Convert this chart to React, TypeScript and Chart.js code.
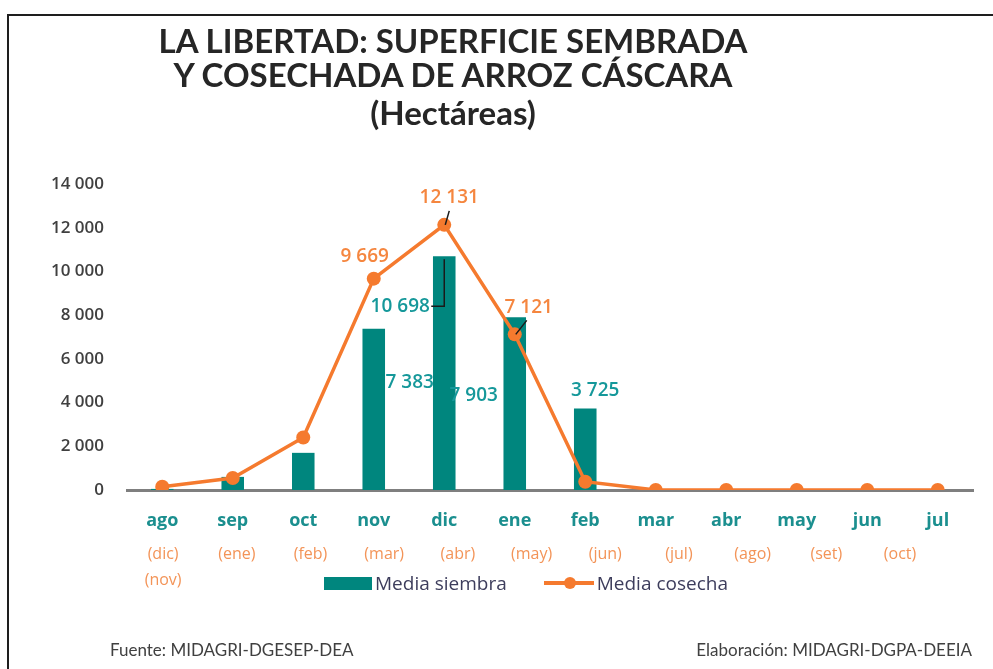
import React, { useEffect, useRef } from "react";
import { Chart, registerables } from "chart.js";

Chart.register(...registerables);

const FONT = "'Open Sans', Lato, sans-serif";
const TITLE_FONT = "Lato, 'Open Sans', sans-serif";

const months = ["ago", "sep", "oct", "nov", "dic", "ene", "feb", "mar", "abr", "may", "jun", "jul"];
const subLabels: (string | string[])[] = [
  ["(dic)", "(nov)"], "(ene)", "(feb)", "(mar)", "(abr)", "(may)", "(jun)", "(jul)", "(ago)", "(set)", "(oct)",
];
const siembra = [50, 600, 1700, 7383, 10698, 7903, 3725, 0, 0, 0, 0, 0];
const cosecha = [150, 550, 2400, 9669, 12131, 7121, 380, 0, 0, 0, 0, 0];
const yMin = 0;
const yMax = 14000;
const yStep = 2000;

// which values get a data label, and where the label sits relative to its mark (layout only)
const siembraLabelOffsets: Record<number, [number, number]> = { 3: [36, 54], 4: [-44, 50], 5: [-41, 78], 6: [10, -18] };
const cosechaLabelOffsets: Record<number, [number, number]> = { 3: [-9, -22], 4: [5, -27], 5: [14, -27] };

const TEAL = "#00867e";
const TEAL_TEXT = "#15989a";
const ORANGE = "#f57a2e";
const ORANGE_TEXT = "#f5863f";
const ORANGE_SUB = "#f39458";

const fmt = (n: number) => String(Math.round(n)).replace(/\B(?=(\d{3})+(?!\d))/g, " ");

const valueLabels = {
  id: "valueLabels",
  afterDatasetsDraw(chart: any) {
    const ctx = chart.ctx;
    ctx.save();
    ctx.font = `600 19px ${FONT}`;
    ctx.textAlign = "center";
    ctx.textBaseline = "middle";
    ctx.strokeStyle = "#1a1a1a";
    ctx.lineWidth = 1.5;

    const barMeta = chart.getDatasetMeta(0);
    const lineMeta = chart.getDatasetMeta(1);

    // leader lines
    const dicBar = barMeta.data[4];
    if (dicBar) {
      const [dx, dy] = siembraLabelOffsets[4];
      const lx = dicBar.x + dx;
      const ly = dicBar.y + dy;
      ctx.beginPath();
      ctx.moveTo(lx + 31, ly);
      ctx.lineTo(dicBar.x, ly);
      ctx.lineTo(dicBar.x, dicBar.y + 3);
      ctx.stroke();
    }
    [4, 5].forEach((i) => {
      const p = lineMeta.data[i];
      if (!p) return;
      const [dx, dy] = cosechaLabelOffsets[i];
      const lx = p.x + dx;
      const ly = p.y + dy;
      ctx.beginPath();
      ctx.moveTo(lx + (i === 4 ? 0 : -2), ly + 13);
      ctx.lineTo(p.x + 1, p.y);
      ctx.stroke();
    });

    Object.keys(siembraLabelOffsets).forEach((k) => {
      const i = Number(k);
      const el = barMeta.data[i];
      const [dx, dy] = siembraLabelOffsets[i];
      ctx.fillStyle = TEAL_TEXT;
      ctx.fillText(fmt(chart.data.datasets[0].data[i]), el.x + dx, el.y + dy);
    });
    Object.keys(cosechaLabelOffsets).forEach((k) => {
      const i = Number(k);
      const el = lineMeta.data[i];
      const [dx, dy] = cosechaLabelOffsets[i];
      ctx.fillStyle = ORANGE_TEXT;
      ctx.fillText(fmt(chart.data.datasets[1].data[i]), el.x + dx, el.y + dy);
    });
    ctx.restore();
  },
};

export default function App() {
  const ref = useRef<HTMLCanvasElement | null>(null);

  useEffect(() => {
    if (!ref.current) return;

    const chart = new Chart(ref.current, {
      type: "bar",
      data: {
        labels: months,
        datasets: [
          {
            type: "bar",
            label: "Media siembra",
            data: siembra,
            backgroundColor: TEAL,
            barPercentage: 0.32,
            categoryPercentage: 1,
            order: 2,
            xAxisID: "x",
            yAxisID: "y",
          },
          {
            type: "line",
            label: "Media cosecha",
            data: cosecha,
            borderColor: ORANGE,
            backgroundColor: ORANGE,
            borderWidth: 3.5,
            pointRadius: 7,
            pointBorderWidth: 0,
            pointBackgroundColor: ORANGE,
            tension: 0,
            order: 1,
            xAxisID: "x",
            yAxisID: "y",
          },
        ],
      },
      options: {
        responsive: false,
        animation: false,
        layout: { padding: { top: 184, left: 0, right: 20, bottom: 73 } },
        plugins: {
          legend: { display: false },
          tooltip: { enabled: false },
        },
        scales: {
          x: {
            type: "category",
            position: "bottom",
            offset: true,
            weight: 0,
            grid: { display: false, drawTicks: false },
            border: { display: true, color: "#7f7f7f", width: 3 },
            ticks: { color: "#1b8f8f", font: { family: FONT, size: 18, weight: "bold" }, padding: 20, maxRotation: 0, autoSkip: false },
            afterFit: (s: any) => { s.height = 44; },
          },
          x2: {
            type: "linear",
            position: "bottom",
            weight: 1,
            offset: false,
            min: -0.49,
            max: 10.99,
            grid: { display: false, drawTicks: false, offset: false },
            border: { display: false },
            afterBuildTicks: (s: any) => { s.ticks = subLabels.map((_, i) => ({ value: i })); },
            ticks: {
              color: ORANGE_SUB,
              font: { family: FONT, size: 16, lineHeight: "26px" },
              padding: 7,
              autoSkip: false,
              maxRotation: 0,
              minRotation: 0,
              callback: (v: any) => subLabels[Number(v)] ?? "",
            },
            afterFit: (s: any) => { s.height = 62; },
          },
          y: {
            type: "linear",
            min: yMin,
            max: yMax,
            grid: { display: false, drawTicks: false },
            border: { display: false },
            ticks: {
              stepSize: yStep,
              color: "#404040",
              padding: 23,
              font: { family: FONT, size: 17, weight: 600 },
              callback: (v: any) => fmt(Number(v)),
            },
            afterFit: (s: any) => { s.width = 127; },
          },
        },
      },
      plugins: [valueLabels],
    } as any);

    return () => chart.destroy();
  }, []);

  const legendText: React.CSSProperties = { fontFamily: FONT, fontSize: 19, color: "#3d3d5c", lineHeight: "24px" };

  return (
    <div style={{ position: "fixed", left: 0, top: 0, width: 993, height: 669, background: "#fff", overflow: "hidden", fontFamily: FONT }}>
      <div style={{ position: "absolute", left: 7, top: 14, width: 1000, height: 700, borderTop: "2.5px solid #1e1e1e", borderLeft: "2.5px solid #1e1e1e" }} />
      <canvas ref={ref} width={993} height={669} style={{ position: "absolute", left: 0, top: 0 }} />
      <div style={{ position: "absolute", left: 153, width: 600, top: 23, textAlign: "center", fontFamily: TITLE_FONT, fontWeight: 700, fontSize: 33, lineHeight: "34px", color: "#262626" }}>
        <div>LA LIBERTAD: SUPERFICIE SEMBRADA</div>
        <div>Y COSECHADA DE ARROZ CÁSCARA</div>
        <div style={{ marginTop: 4 }}>(Hectáreas)</div>
      </div>
      <div style={{ position: "absolute", left: 324, top: 571, display: "flex", alignItems: "center", height: 24 }}>
        <div style={{ width: 48, height: 13, background: TEAL }} />
        <div style={{ ...legendText, marginLeft: 3 }}>Media siembra</div>
        <div style={{ position: "relative", width: 50, height: 14, marginLeft: 37 }}>
          <div style={{ position: "absolute", left: 0, top: 5, width: 50, height: 4, background: ORANGE }} />
          <div style={{ position: "absolute", left: 20, top: 1, width: 12, height: 12, borderRadius: 6, background: ORANGE }} />
        </div>
        <div style={{ ...legendText, marginLeft: 3 }}>Media cosecha</div>
      </div>
      <div style={{ position: "absolute", left: 110, top: 639, fontFamily: TITLE_FONT, fontSize: 17, color: "#404040" }}>Fuente: MIDAGRI-DGESEP-DEA</div>
      <div style={{ position: "absolute", right: 21, top: 639, fontFamily: TITLE_FONT, fontSize: 17, color: "#404040" }}>Elaboración: MIDAGRI-DGPA-DEEIA</div>
    </div>
  );
}
